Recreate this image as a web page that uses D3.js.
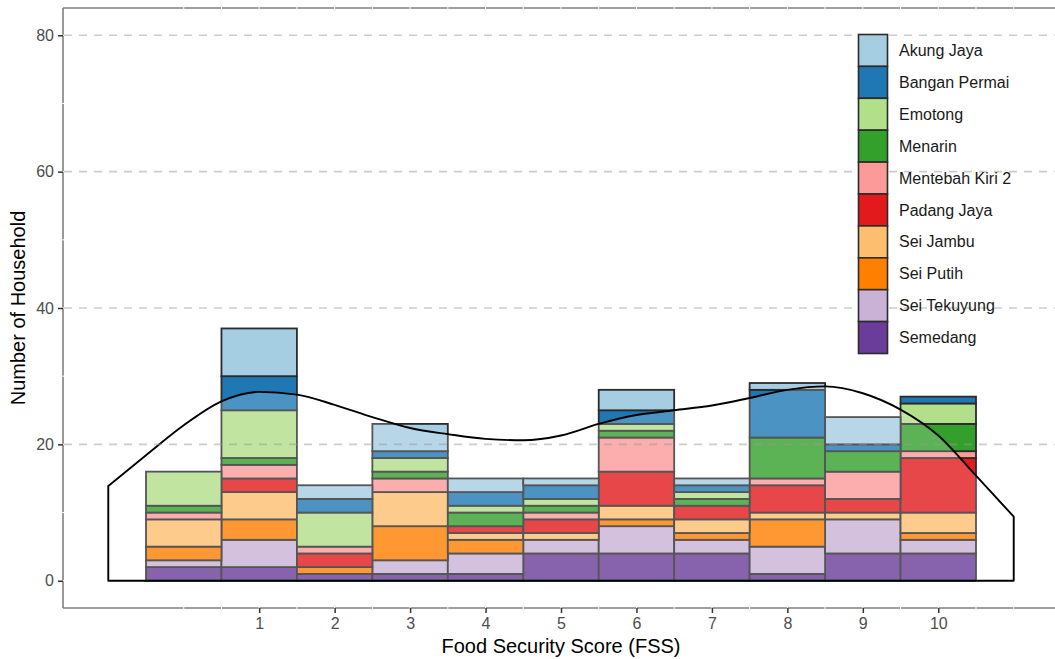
<!DOCTYPE html>
<html>
<head>
<meta charset="utf-8">
<script src="https://cdn.jsdelivr.net/npm/d3@7"></script>
<style>
  html, body { margin: 0; padding: 0; background: #ffffff; }
  svg { display: block; font-family: "Liberation Sans", Arial, sans-serif; }
</style>
</head>
<body>
<svg id="chart" width="1055" height="659"></svg>
<script>
// ---- data ----
const categories = ["Akung Jaya", "Bangan Permai", "Emotong", "Menarin", "Mentebah Kiri 2",
                    "Padang Jaya", "Sei Jambu", "Sei Putih", "Sei Tekuyung", "Semedang"];
const scores = [0, 1, 2, 3, 4, 5, 6, 7, 8, 9, 10];
const akungJaya     = [0, 7, 2, 4, 2, 1, 3, 1, 1, 4, 0];
const banganPermai  = [0, 5, 2, 1, 2, 2, 2, 1, 7, 1, 1];
const emotong       = [5, 7, 5, 2, 1, 1, 1, 1, 0, 0, 3];
const menarin       = [1, 1, 0, 1, 2, 1, 1, 1, 6, 3, 4];
const mentebahKiri2 = [1, 2, 1, 2, 0, 1, 5, 0, 1, 4, 1];
const padangJaya    = [0, 2, 2, 0, 1, 2, 5, 2, 4, 2, 8];
const seiJambu      = [4, 4, 0, 5, 1, 1, 2, 2, 1, 1, 3];
const seiPutih      = [2, 3, 1, 5, 2, 0, 1, 1, 4, 0, 1];
const seiTekuyung   = [1, 4, 0, 2, 3, 2, 4, 2, 4, 5, 2];
const semedang      = [2, 2, 1, 1, 1, 4, 4, 4, 1, 4, 4];
const seriesValues = [akungJaya, banganPermai, emotong, menarin, mentebahKiri2,
                      padangJaya, seiJambu, seiPutih, seiTekuyung, semedang];
const colors = ["#a6cee3", "#1f78b4", "#b2df8a", "#33a02c", "#fb9a99",
                "#e31a1c", "#fdbf6f", "#ff7f00", "#cab2d6", "#6a3d9a"];
// density curve (in count units)
const densX = [-1, -0.5, 0, 0.5, 1, 1.5, 2, 2.5, 3, 3.5, 4, 4.5, 5, 5.5, 6, 6.5, 7, 7.5, 8, 8.5, 9, 9.5, 10, 10.5, 11];
const densY = [13.9, 18.4, 22.8, 26.3, 27.7, 27.3, 25.8, 24.0, 22.4, 21.5, 20.8, 20.6, 21.3, 23.0, 24.3, 25.0, 25.7, 26.8, 28.0, 28.5, 27.5, 25.1, 21.3, 15.4, 9.4];
const xTicks = [1, 2, 3, 4, 5, 6, 7, 8, 9, 10];
const yTicks = [0, 20, 40, 60, 80];
const xTitle = "Food Security Score (FSS)";
const yTitle = "Number of Household";

// ---- layout ----
const svg = d3.select("#chart");
const pLeft = 63, pRight = 1059, pTop = 8, pBottom = 608;
const x = d3.scaleLinear().domain([-1.6, 11.6]).range([pLeft, pRight]);
const y = d3.scaleLinear().domain([-4, 84]).range([pBottom, pTop]);
const color = d3.scaleOrdinal().domain(categories).range(colors);

// table for stacking
const table = scores.map((s, i) => {
  const row = { score: s };
  categories.forEach((c, k) => { row[c] = seriesValues[k][i]; });
  return row;
});
const stackKeys = categories.slice().reverse(); // Semedang at bottom
const stacked = d3.stack().keys(stackKeys)(table);

// ---- panel frame ----
const frame = svg.append("g");
frame.append("line").attr("x1", pLeft).attr("x2", pLeft).attr("y1", pTop).attr("y2", pBottom)
  .attr("stroke", "#7f7f7f").attr("stroke-width", 1.6);
frame.append("line").attr("x1", pLeft).attr("x2", 1060).attr("y1", pTop).attr("y2", pTop)
  .attr("stroke", "#7f7f7f").attr("stroke-width", 1.6);
frame.append("line").attr("x1", pLeft).attr("x2", 1060).attr("y1", pBottom).attr("y2", pBottom)
  .attr("stroke", "#7f7f7f").attr("stroke-width", 1.6);

// white grid lines (visible only where they cross the frame)
const grid = svg.append("g");
grid.selectAll("line.vx").data(d3.range(0, 11.01, 0.5)).join("line")
  .attr("x1", d => x(d)).attr("x2", d => x(d)).attr("y1", pTop - 2).attr("y2", pBottom + 2)
  .attr("stroke", "#ffffff").attr("stroke-width", 1);
grid.selectAll("line.hy").data(d3.range(0, 80.01, 10)).join("line")
  .attr("x1", pLeft - 2).attr("x2", pRight).attr("y1", d => y(d)).attr("y2", d => y(d))
  .attr("stroke", "#ffffff").attr("stroke-width", 1);

// ---- bars ----
const barG = svg.append("g");
stacked.forEach(layer => {
  barG.append("g").selectAll("rect").data(layer).join("rect")
    .attr("x", d => x(d.data.score - 0.5))
    .attr("width", d => x(d.data.score + 0.5) - x(d.data.score - 0.5))
    .attr("y", d => y(d[1]))
    .attr("height", d => y(d[0]) - y(d[1]))
    .attr("fill", color(layer.key))
    .attr("stroke", d => (d[1] - d[0]) > 0 ? "#2b2b2b" : "none")
    .attr("stroke-width", 1.8);
});

// ---- density overlay ----
const area = d3.area()
  .x((d, i) => x(densX[i]))
  .y0(y(0))
  .y1((d, i) => y(densY[i]))
  .curve(d3.curveMonotoneX);
svg.append("path").datum(densY)
  .attr("d", area)
  .attr("fill", "#ffffff").attr("fill-opacity", 0.2)
  .attr("stroke", "#000000").attr("stroke-width", 1.9)
  .attr("stroke-linejoin", "round");

// ---- dashed horizontal lines ----
svg.append("g").selectAll("line").data([20, 40, 60, 80]).join("line")
  .attr("x1", pLeft + 1).attr("x2", 1060)
  .attr("y1", d => y(d)).attr("y2", d => y(d))
  .attr("stroke", "#999999").attr("stroke-opacity", 0.5)
  .attr("stroke-width", 1.6).attr("stroke-dasharray", "8,7");

// ---- axes ----
const xAxis = svg.append("g").attr("transform", `translate(0,${pBottom})`)
  .call(d3.axisBottom(x).tickValues(xTicks).tickSize(5).tickPadding(5).tickFormat(d3.format("d")));
xAxis.select(".domain").remove();
xAxis.selectAll(".tick line").attr("stroke", "#333333").attr("stroke-width", 1.5);
xAxis.selectAll(".tick text").attr("fill", "#4d4d4d").style("font-size", "16px")
  .style("font-family", "'Liberation Sans', Arial, sans-serif");

const yAxis = svg.append("g").attr("transform", `translate(${pLeft},0)`)
  .call(d3.axisLeft(y).tickValues(yTicks).tickSize(5).tickPadding(4).tickFormat(d3.format("d")));
yAxis.select(".domain").remove();
yAxis.selectAll(".tick line").attr("stroke", "#333333").attr("stroke-width", 1.5);
yAxis.selectAll(".tick text").attr("fill", "#4d4d4d").style("font-size", "16px")
  .style("font-family", "'Liberation Sans', Arial, sans-serif");

// axis titles
svg.append("text").attr("x", (pLeft + pRight) / 2).attr("y", 653)
  .attr("text-anchor", "middle").attr("fill", "#000000").style("font-size", "20px")
  .text(xTitle);
svg.append("text").attr("transform", `translate(25,${(pTop + pBottom) / 2}) rotate(-90)`)
  .attr("text-anchor", "middle").attr("fill", "#000000").style("font-size", "20px")
  .text(yTitle);

// ---- legend ----
const keyH = 31.9, keyW = 29, legX = 858.5, legY = 34.5;
const leg = svg.append("g");
categories.forEach((c, i) => {
  leg.append("rect").attr("x", legX).attr("y", legY + i * keyH)
    .attr("width", keyW).attr("height", keyH)
    .attr("fill", color(c)).attr("stroke", "#2b2b2b").attr("stroke-width", 1.6);
  leg.append("text").attr("x", 899).attr("y", legY + i * keyH + keyH / 2)
    .attr("dy", "0.35em").attr("fill", "#1a1a1a").style("font-size", "16px")
    .text(c);
});
</script>
</body>
</html>
